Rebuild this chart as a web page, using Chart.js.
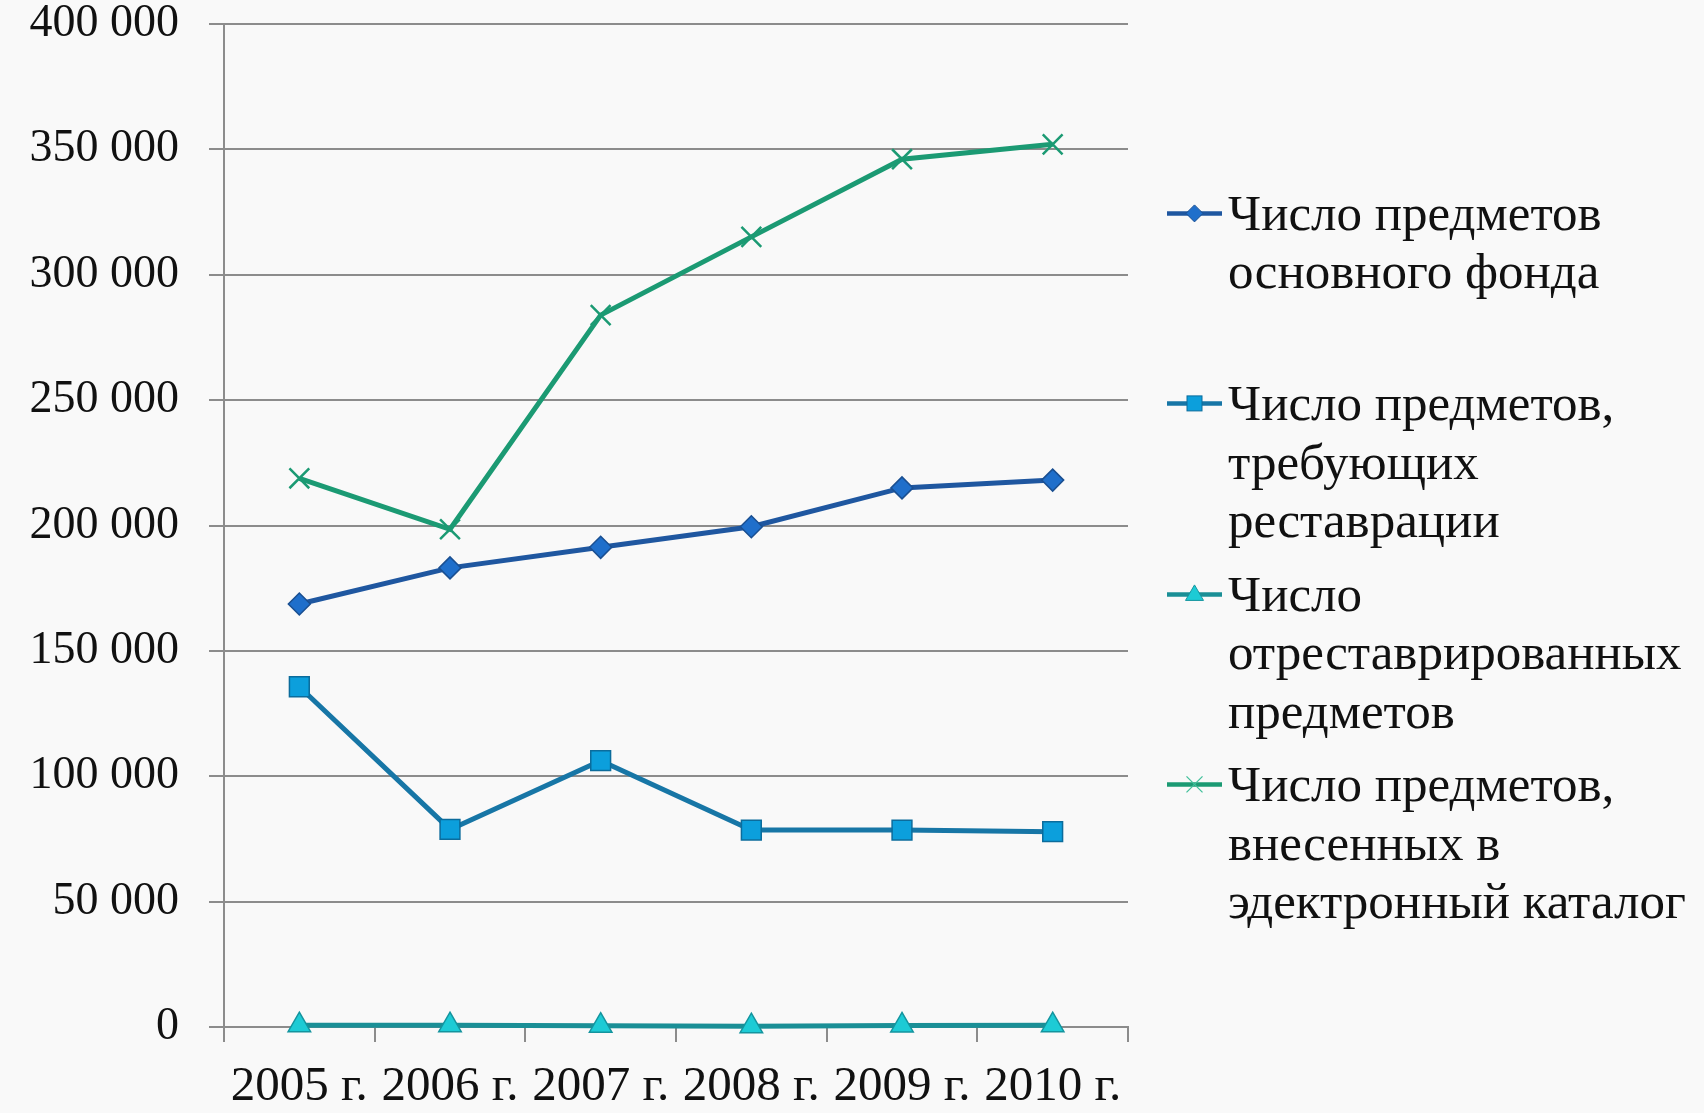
<!DOCTYPE html>
<html><head><meta charset="utf-8">
<script src="https://cdn.jsdelivr.net/npm/chart.js@4.4.1/dist/chart.umd.min.js"></script>
<style>
html,body{margin:0;padding:0;background:#f9f9f9;}
#wrap{position:relative;width:1704px;height:1113px;overflow:hidden;}
#c{position:absolute;left:0;top:0;}
.li{position:absolute;left:1167px;font-family:"Liberation Serif",serif;font-size:51px;line-height:58.5px;color:#111;white-space:nowrap;}
.li svg{position:absolute;left:0;top:0;overflow:visible;}
.li .t{margin-left:61px;}
</style></head>
<body><div id="wrap"><canvas id="c" width="1704" height="1113"></canvas><div id="legend"></div></div>
<script>
const categories = ['2005 г.', '2006 г.', '2007 г.', '2008 г.', '2009 г.', '2010 г.'];
const seriesNames = [
  ['Число предметов', 'основного фонда'],
  ['Число предметов,', 'требующих', 'реставрации'],
  ['Число', 'отреставрированных', 'предметов'],
  ['Число предметов,', 'внесенных в', 'эдектронный каталог']
];
const mainFund = [168700, 183100, 191300, 199500, 215000, 218100];
const needRestoration = [135700, 78800, 106200, 78550, 78550, 77900];
const restored = [700, 700, 500, 300, 600, 700];
const inCatalog = [218800, 198500, 283900, 315100, 346100, 352000];
const yTickLabels = ['0', '50 000', '100 000', '150 000', '200 000', '250 000', '300 000', '350 000', '400 000'];

const styles = [
  {line:'#1F57A0', fill:'#1F6FCB', edge:'#1A4F91', point:'rectRot', r:11, pbw:1.5},
  {line:'#1776A6', fill:'#0C9FDC', edge:'#0B6C9C', point:'rect', r:14, pbw:1.5},
  {line:'#1A8F96', fill:'#1DCBD5', edge:'#14949E', point:'triangle', r:13, pbw:1.5},
  {line:'#1B9A73', fill:'#1B9A73', edge:'#1B9A73', point:'crossRot', r:14, pbw:2.5}
];
const seriesData = [mainFund, needRestoration, restored, inCatalog];

const datasets = seriesData.map((d, i) => ({
  label: seriesNames[i].join(' '),
  data: d,
  borderColor: styles[i].line,
  borderWidth: 5,
  backgroundColor: styles[i].fill,
  pointStyle: styles[i].point,
  pointRadius: styles[i].r,
  pointBackgroundColor: styles[i].fill,
  pointBorderColor: styles[i].edge,
  pointBorderWidth: styles[i].pbw,
  tension: 0,
  fill: false,
  clip: false
}));

const gridColor = '#8c8c8c';
new Chart(document.getElementById('c'), {
  type: 'line',
  data: { labels: categories, datasets },
  options: {
    responsive: false,
    animation: false,
    layout: { autoPadding: false, padding: { top: 24, right: 576, left: 0, bottom: 0 } },
    plugins: { legend: { display: false }, tooltip: { enabled: false } },
    scales: {
      x: {
        offset: true,
        afterFit: s => { s.height = 86; },
        grid: { display: true, offset: true, drawOnChartArea: false, drawTicks: true, tickLength: 15, color: gridColor, lineWidth: 2 },
        border: { display: true, color: gridColor, width: 2 },
        ticks: { color: '#111', font: { family: '"Liberation Serif", serif', size: 49, lineHeight: 1.08 }, padding: 19, maxRotation: 0, minRotation: 0, autoSkip: false }
      },
      y: {
        min: 0, max: 400000,
        afterFit: s => { s.width = 224; s.paddingTop = 0; s.paddingBottom = 0; },
        grid: { color: gridColor, lineWidth: 2, tickLength: 15, drawTicks: true },
        border: { display: true, color: gridColor, width: 2 },
        ticks: { stepSize: 50000, color: '#111', padding: 30,
          font: { family: '"Liberation Serif", serif', size: 46, lineHeight: 1.0 },
          callback: v => yTickLabels[Math.round(v / 50000)] }
      }
    }
  }
});

// HTML legend
const legend = document.getElementById('legend');
function markerSvg(i) {
  const s = styles[i];
  const y = 29.4, cx = 27.5;
  let m = '';
  if (s.point === 'rectRot') m = `<polygon points="${cx},${y-8.5} ${cx+8.5},${y} ${cx},${y+8.5} ${cx-8.5},${y}" fill="${s.fill}" stroke="${s.edge}" stroke-width="1"/>`;
  else if (s.point === 'rect') m = `<rect x="${cx-7.5}" y="${y-7.5}" width="15" height="15" fill="${s.fill}" stroke="${s.edge}" stroke-width="1"/>`;
  else if (s.point === 'triangle') m = `<polygon points="${cx},${y-9.5} ${cx+9},${y+6} ${cx-9},${y+6}" fill="${s.fill}" stroke="${s.edge}" stroke-width="1"/>`;
  else m = `<line x1="${cx-8}" y1="${y-8}" x2="${cx+8}" y2="${y+8}" stroke="#3fbf9a" stroke-width="1.3"/><line x1="${cx-8}" y1="${y+8}" x2="${cx+8}" y2="${y-8}" stroke="#3fbf9a" stroke-width="1.3"/>`;
  return `<svg width="55" height="58.5"><line x1="0" y1="${y}" x2="55" y2="${y}" stroke="${s.line}" stroke-width="4.5"/>${m}</svg>`;
}
seriesNames.forEach((lines, i) => {
  const d = document.createElement('div');
  d.className = 'li';
  d.style.top = (183.6 + 190.5 * i) + 'px';
  d.innerHTML = markerSvg(i) + '<div class="t">' + lines.join('<br>') + '</div>';
  legend.appendChild(d);
});
</script>
</body></html>
